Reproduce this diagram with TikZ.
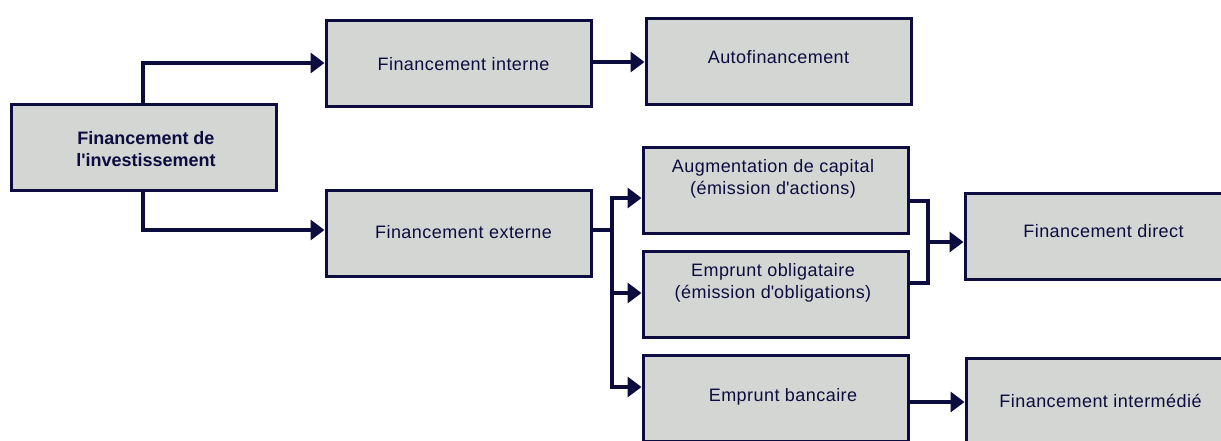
\documentclass[tikz,border=0pt]{standalone}
\usepackage{fontspec}
\setmainfont{Liberation Sans}[LetterSpace=2.5]
\newfontfamily\boldsans{Liberation Sans}[BoldFont={Liberation Sans Bold}]
\usepackage{tikz}
\usetikzlibrary{positioning,arrows.meta}
\definecolor{navy}{RGB}{12,12,62}
\definecolor{boxgray}{RGB}{212,214,212}

\begin{document}
\begin{tikzpicture}[x=1pt,y=-1pt,font=\fontsize{18}{22.5}\selectfont]
	\tikzstyle{box}=[draw=navy,fill=boxgray,line width=3pt,minimum width=265pt,minimum height=86pt,inner sep=0pt]
	\tikzstyle{txt}=[text=navy,align=center,inner sep=0pt]
	\tikzstyle{line}=[draw=navy,line width=4pt]
	\tikzstyle{conn}=[line,-{Triangle[length=14pt,width=20pt]}]
	\useasboundingbox (0,0) rectangle (1221,440);
	\clip (0,0) rectangle (1221,440);
		% boxes
		\node[box] (fi) at (144,147.5) {};
		\node[box] (int) at (458.5,63) {};
		\node[box] (auto) at (778.5,61.5) {};
		\node[box] (ext) at (458.5,233.5) {};
		\node[box] (aug) at (775.5,190.5) {};
		\node[box] (obl) at (775.5,294.5) {};
		\node[box] (ban) at (775.5,398.5) {};
		\node[box] (dir) at (1097.5,236.5) {};
		\node[box] (med) at (1098.5,401.5) {};
		% texts
		\node[txt,font=\boldsans\fontsize{18}{22}\selectfont\bfseries] (tfi) at (146,149) {Financement de\\l\textquotesingle investissement};
		\node[txt] (tint) at (463.5,64) {Financement interne};
		\node[txt] (tauto) at (778.5,57) {Autofinancement};
		\node[txt] (text) at (463.5,232) {Financement externe};
		\node[txt] (taug) at (773,179) {Augmentation de capital\\(émission d\textquotesingle actions)};
		\node[txt] (tobl) at (773,283) {Emprunt obligataire\\(émission d\textquotesingle obligations)};
		\node[txt] (tban) at (783,397) {Emprunt bancaire};
		\node[txt] (tdir) at (1103.5,231) {Financement direct};
		\node[txt] (tmed) at (1100.5,401) {Financement intermédié};
		% connectors
		\coordinate (split) at (612,230);
		\coordinate (merge) at (928,242);
			\draw[conn] ([xshift=-1]fi.north) |- (int.west);
			\draw[conn] ([xshift=-1]fi.south) |- ([yshift=3.5]ext.west);
			\draw[conn] ([yshift=1]int.east) -- ([yshift=1]int.east -| auto.west);
			\draw[line] ([yshift=3.5]ext.east) -- (split);
			\draw[conn] (split) |- ([yshift=-7.5]aug.west);
			\draw[conn] (split) |- ([yshift=1.5]obl.west);
			\draw[conn] (split) |- ([yshift=11.5]ban.west);
			\draw[line] ([yshift=-10.5]aug.east) -| (merge) |- ([yshift=11.5]obl.east);
			\draw[conn] (merge) -- (merge -| dir.west);
			\draw[conn] ([yshift=-3.5]ban.east) -- ([yshift=-3.5]ban.east -| med.west);
\end{tikzpicture}
\end{document}
